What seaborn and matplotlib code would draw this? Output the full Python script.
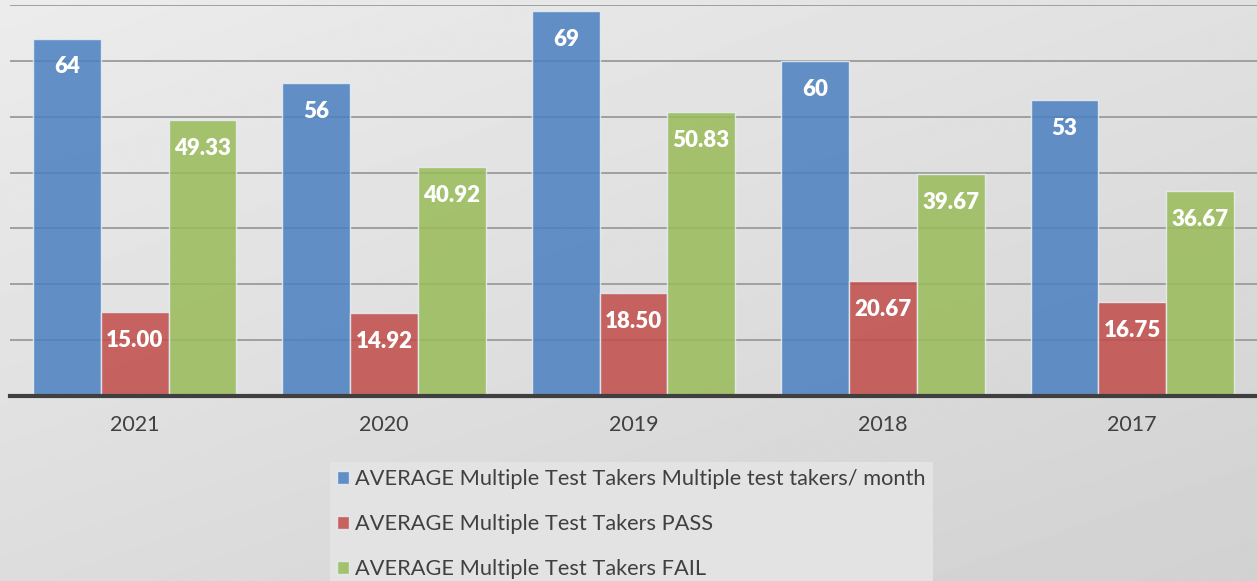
import matplotlib

matplotlib.use("Agg")

import matplotlib.pyplot as plt  # noqa: E402
import numpy as np  # noqa: E402
import pandas as pd  # noqa: E402
import seaborn as sns  # noqa: E402

years = ["2021", "2020", "2019", "2018", "2017"]
series = [
    "AVERAGE Multiple Test Takers Multiple test takers/ month",
    "AVERAGE Multiple Test Takers PASS",
    "AVERAGE Multiple Test Takers FAIL",
]
per_month = [64, 56, 69, 60, 53]
passed = [15.00, 14.92, 18.50, 20.67, 16.75]
failed = [49.33, 40.92, 50.83, 39.67, 36.67]
colors = ["#4a80c0", "#c14c49", "#99bb58"]

df = pd.DataFrame({
    "year": years * 3,
    "series": [s for s in series for _ in years],
    "value": per_month + passed + failed,
})

sns.set_style("white")
plt.rcParams["font.family"] = ["Lato", "DejaVu Sans"]

W, H = 1257, 581
fig = plt.figure(figsize=(W / 100, H / 100), dpi=100)

# фон с градиентом
bg = fig.add_axes([0, 0, 1, 1], zorder=-10)
yy, xx = np.mgrid[0:1:200j, 0:1:400j]
grad = 0.925 - 0.06 * yy - 0.045 * xx
bg.imshow(grad, cmap="gray", vmin=0, vmax=1, aspect="auto", extent=[0, 1, 0, 1])
bg.axis("off")

ax = fig.add_axes([10 / W, 1 - 396 / H, 1 - 10 / W, (396 - 5) / H])
ax.set_facecolor("none")

sns.barplot(data=df, x="year", y="value", hue="series", order=years,
            hue_order=series, palette=colors, saturation=1, width=0.815,
            alpha=0.85, edgecolor="#e8eef5", linewidth=1, ax=ax, zorder=2)

ax.set_ylim(0, 70)
ax.set_yticks(np.arange(10, 71, 10))
ax.yaxis.grid(True, color="#a0a0a0", linewidth=1.4, zorder=0)
ax.set_axisbelow(True)
ax.set_yticklabels([])
ax.tick_params(axis="y", length=0)
ax.tick_params(axis="x", length=0, labelsize=15.5, labelcolor="#404040", pad=14)
ax.set_xlabel("")
ax.set_ylabel("")
for side in ["top", "right", "left"]:
    ax.spines[side].set_visible(False)
ax.spines["bottom"].set_color("#3f3f3f")
ax.spines["bottom"].set_linewidth(3)

for i, cont in enumerate(ax.containers):
    fmt = "{:.0f}" if i == 0 else "{:.2f}"
    for bar in cont:
        h = bar.get_height()
        ax.annotate(fmt.format(h), (bar.get_x() + bar.get_width() / 2, h),
                    xytext=(0, -20.5), textcoords="offset points",
                    ha="center", va="center", color="white",
                    fontsize=16, fontweight="heavy", zorder=5)

handles, labels = ax.get_legend_handles_labels()
ax.legend(handles, labels, loc="upper left",
          bbox_to_anchor=(330 / W, 1 - 462 / H), bbox_transform=fig.transFigure,
          frameon=True, fancybox=False, facecolor="#e3e3e3", edgecolor="none",
          framealpha=1, fontsize=15.7, labelcolor="#404040",
          handlelength=0.55, handleheight=0.55, handletextpad=0.28,
          labelspacing=1.15, borderpad=0.32, borderaxespad=0)

fig.savefig("out.png", dpi=100)
